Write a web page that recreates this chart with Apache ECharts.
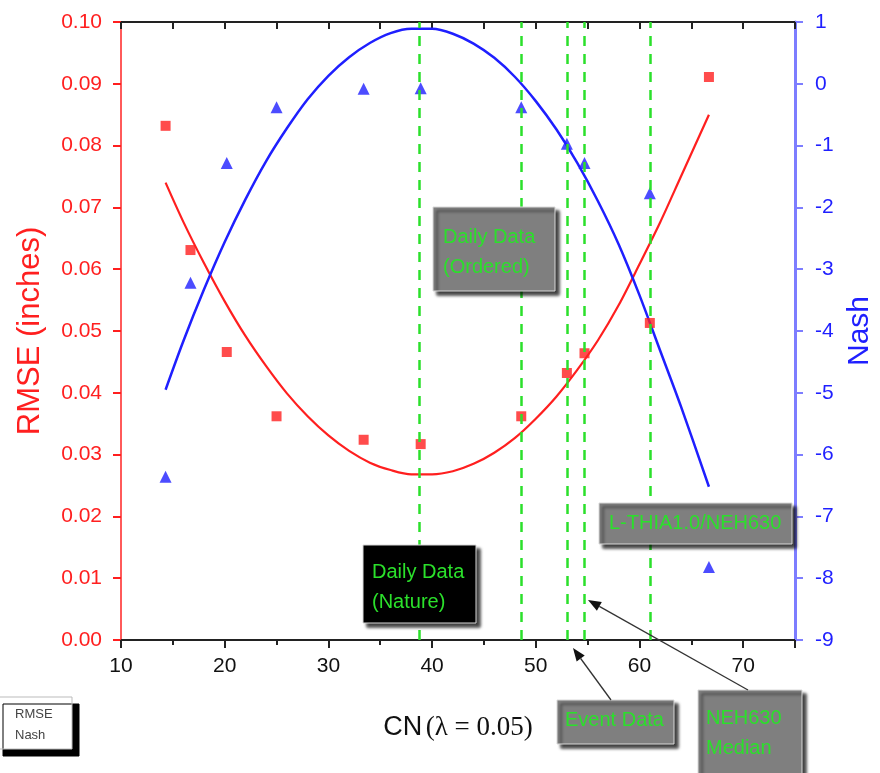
<!DOCTYPE html>
<html>
<head>
<meta charset="utf-8">
<script src="https://cdn.jsdelivr.net/npm/echarts@6/dist/echarts.min.js"></script>
<style>
  html, body { margin: 0; padding: 0; background: #fff; }
  #chart { width: 880px; height: 773px; }
</style>
</head>
<body>
<div id="chart"></div>
<script>
// CN vs RMSE / Nash — scatter + fitted curves, reference CN lines

const cnValues = [14.3, 16.7, 20.2, 25.0, 33.4, 38.9, 48.6, 53.0, 54.7, 61.0, 66.7];
const rmseValues = [0.0832, 0.0631, 0.0466, 0.0362, 0.0324, 0.0317, 0.0362, 0.0432, 0.0464, 0.0513, 0.0911];
const nashValues = [-6.36, -3.22, -1.28, -0.38, -0.08, -0.07, -0.38, -0.97, -1.28, -1.77, -7.82];

// fitted curves
const fitCN = [14.3, 16, 18, 20, 22, 24, 26, 28, 30, 32, 34, 36, 38, 40, 42, 44, 46, 48, 50, 52, 54, 56, 58, 60, 62, 64, 66.7];
const rmseFit = [0.0740, 0.0677, 0.0610, 0.0548, 0.0492, 0.0443, 0.0399, 0.0362, 0.0331, 0.0306, 0.0287, 0.0275, 0.0268,
  0.0268, 0.0273, 0.0285, 0.0303, 0.0327, 0.0358, 0.0394, 0.0437, 0.0485, 0.0542, 0.0608, 0.0676, 0.0750, 0.0850];
const nashFit = [-4.95, -4.17, -3.33, -2.56, -1.87, -1.25, -0.72, -0.25, 0.13, 0.43, 0.66, 0.82, 0.89,
  0.89, 0.81, 0.65, 0.42, 0.11, -0.28, -0.74, -1.28, -1.90, -2.60, -3.42, -4.32, -5.22, -6.52];

// dashed reference lines (CN)
const refCN = [38.8, 48.6, 53.0, 54.7, 61.0];

const RED = '#ff1f1f';
const BLUE = '#1f1fff';
const GREEN = '#2be02b';
const FONT = '"Liberation Sans", Arial, sans-serif';

const pair = (xs, ys) => xs.map((x, i) => [x, ys[i]]);

const chart = echarts.init(document.getElementById('chart'));

function box(x, y, w, h, fill, text, tx, ty) {
  return {
    type: 'group',
    z: 100,
    children: [
      {
        type: 'rect',
        z: 100,
        shape: { x: x, y: y, width: w, height: h },
        style: {
          fill: fill,
          stroke: '#d8d8d8',
          lineWidth: 1,
          shadowBlur: 3,
          shadowOffsetX: 4,
          shadowOffsetY: 4,
          shadowColor: 'rgba(0,0,0,0.75)',
        },
      },
      {
        type: 'text',
        z: 101,
        x: tx, y: ty,
        style: {
          text: text,
          fill: GREEN,
          font: '20px ' + FONT,
          lineHeight: 30,
        },
      },
    ],
  };
}

function arrow(x1, y1, x2, y2) {
  const ang = Math.atan2(y2 - y1, x2 - x1);
  const L = 13, W = 5;
  const bx = x2 - L * Math.cos(ang), by = y2 - L * Math.sin(ang);
  const px = -Math.sin(ang) * W, py = Math.cos(ang) * W;
  return {
    type: 'group',
    z: 100,
    children: [
      { type: 'line', z: 100, shape: { x1: x1, y1: y1, x2: bx, y2: by }, style: { stroke: '#333', lineWidth: 1.3 } },
      {
        type: 'polygon',
        z: 100,
        shape: { points: [[x2, y2], [bx + px, by + py], [bx - px, by - py]] },
        style: { fill: '#111' },
      },
    ],
  };
}

chart.setOption({
  animation: false,
  backgroundColor: '#fff',
  grid: { left: 121, right: 85, top: 22, bottom: 133, outerBoundsMode: 'none' },
  xAxis: [
    {
      type: 'value',
      min: 10, max: 75, interval: 10,
      position: 'bottom',
      name: '{a|CN} {b|(λ = 0.05)}',
      nameLocation: 'middle',
      nameGap: 74,
      nameTextStyle: {
        rich: {
          a: { fontFamily: FONT, fontSize: 27, color: '#111' },
          b: { fontFamily: '"Liberation Serif", "Times New Roman", serif', fontSize: 27, color: '#111' },
        },
      },
      axisLine: { onZero: false, lineStyle: { color: '#222', width: 2 } },
      axisTick: { inside: false, length: 8, lineStyle: { color: '#222', width: 2 } },
      minorTick: { show: true, splitNumber: 2, length: 5, lineStyle: { color: '#222', width: 2 } },
      axisLabel: { color: '#111', fontSize: 21, fontFamily: FONT, margin: 16, showMaxLabel: false },
      splitLine: { show: false },
    },
    {
      type: 'value',
      min: 10, max: 75, interval: 5,
      position: 'top',
      axisLine: { onZero: false, lineStyle: { color: '#222', width: 2 } },
      axisTick: { inside: true, length: 7, lineStyle: { color: '#222', width: 2 } },
      axisLabel: { show: false },
      splitLine: { show: false },
    },
  ],
  yAxis: [
    {
      type: 'value',
      min: 0, max: 0.1, interval: 0.01,
      position: 'left',
      name: 'RMSE (inches)',
      nameLocation: 'middle',
      nameGap: 75,
      nameTextStyle: { color: RED, fontSize: 31, fontFamily: FONT },
      axisLine: { show: true, onZero: false, lineStyle: { color: '#ff5a5a', width: 2 } },
      axisTick: { show: true, length: 8, lineStyle: { color: RED, width: 2 } },
      axisLabel: { color: RED, fontSize: 21, fontFamily: FONT, margin: 19, formatter: v => v.toFixed(2) },
      splitLine: { show: false },
    },
    {
      type: 'value',
      min: -9, max: 1, interval: 1,
      position: 'right',
      name: 'Nash',
      nameLocation: 'middle',
      nameGap: 47,
      nameRotate: 90,
      nameTextStyle: { color: BLUE, fontSize: 30, fontFamily: FONT },
      axisLine: { show: true, onZero: false, lineStyle: { color: '#7d7dff', width: 3 } },
      axisTick: { show: true, length: 8, lineStyle: { color: '#7d7dff', width: 2 } },
      axisLabel: { color: BLUE, fontSize: 21, fontFamily: FONT, margin: 20 },
      splitLine: { show: false },
    },
  ],
  series: [
    {
      name: 'RMSE fit',
      type: 'line',
      xAxisIndex: 0, yAxisIndex: 0,
      data: pair(fitCN, rmseFit),
      smooth: 0.3,
      showSymbol: false,
      lineStyle: { color: RED, width: 2.2 },
      z: 3,
      markLine: {
        silent: true,
        symbol: 'none',
        label: { show: false },
        lineStyle: { color: GREEN, width: 2.5, type: [10, 8] },
        data: refCN.map(v => ({ xAxis: v })),
      },
    },
    {
      name: 'Nash fit',
      type: 'line',
      xAxisIndex: 0, yAxisIndex: 1,
      data: pair(fitCN, nashFit),
      smooth: 0.3,
      showSymbol: false,
      lineStyle: { color: BLUE, width: 2.5 },
      z: 3,
    },
    {
      name: 'RMSE',
      type: 'scatter',
      xAxisIndex: 0, yAxisIndex: 0,
      data: pair(cnValues, rmseValues),
      symbol: 'rect',
      symbolSize: 10,
      itemStyle: { color: RED },
      z: 4,
    },
    {
      name: 'Nash',
      type: 'scatter',
      xAxisIndex: 0, yAxisIndex: 1,
      data: pair(cnValues, nashValues),
      symbol: 'triangle',
      symbolSize: 12,
      itemStyle: { color: BLUE },
      z: 4,
    },
  ],
  graphic: [
    box(433, 207, 122, 84, '#7f7f7f', 'Daily Data\n(Ordered)', 443, 222),
    box(363, 545, 113, 78, '#000', 'Daily Data\n(Nature)', 372, 557),
    box(599, 503, 193, 41, '#7f7f7f', 'L-THIA1.0/NEH630', 609, 508),
    box(557, 700, 117, 44, '#7f7f7f', 'Event Data', 565, 705),
    box(698, 690, 104, 90, '#7f7f7f', 'NEH630\nMedian', 706, 703),
    arrow(611, 700, 573, 648),
    arrow(748, 690, 588, 600),
    // legend box, bottom left
    {
      type: 'rect',
      z: 100,
      shape: { x: -4, y: 697, width: 76, height: 52 },
      style: {
        fill: '#fff', stroke: '#bbb', lineWidth: 1,
        shadowBlur: 0, shadowOffsetX: 7, shadowOffsetY: 7, shadowColor: '#000',
      },
    },
    {
      type: 'text', z: 101, x: 15, y: 704,
      style: { text: 'RMSE\nNash', fill: '#444', font: '13px ' + FONT, lineHeight: 21 },
    },
  ],
});
</script>
</body>
</html>
